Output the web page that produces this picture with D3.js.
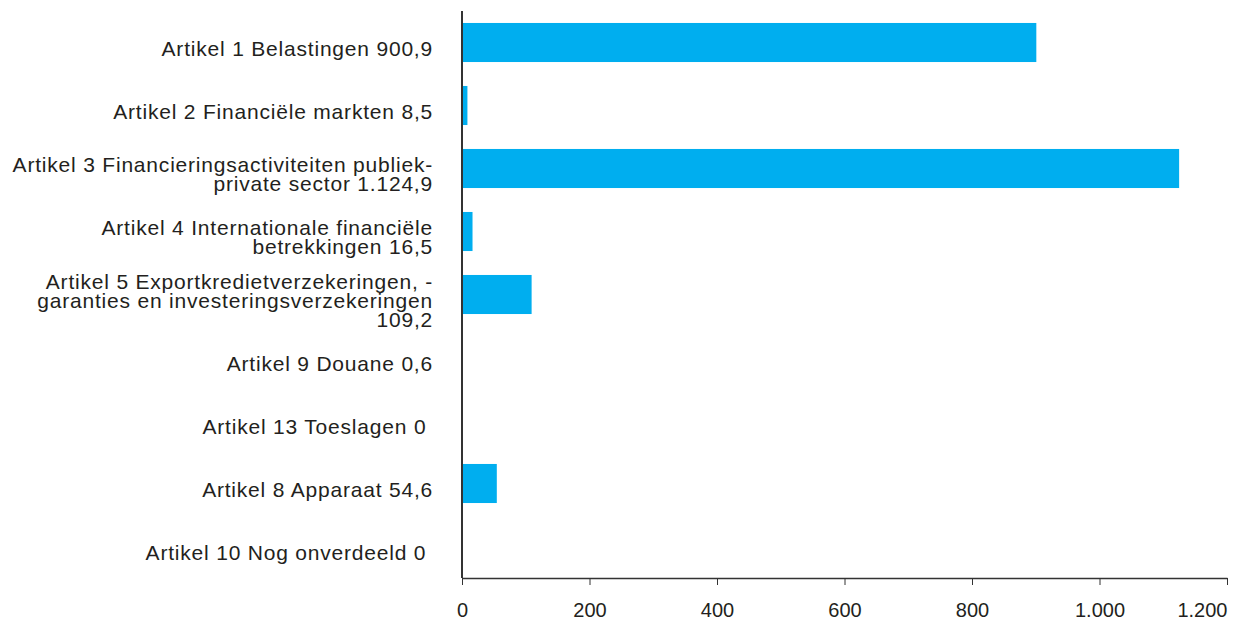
<!DOCTYPE html>
<html>
<head>
<meta charset="utf-8">
<script src="https://cdn.jsdelivr.net/npm/d3@7"></script>
<style>
  body { margin: 0; background: #fff; }
  svg text { font-family: "Liberation Sans", Arial, sans-serif; fill: #231f20; white-space: pre; }
</style>
</head>
<body>
<div class="vis-bars"></div>
<script>
// chart data
const labels = [
    ["Artikel 1 Belastingen 900,9"],
    ["Artikel 2 Financiële markten 8,5"],
    ["Artikel 3 Financieringsactiviteiten publiek-", "private sector 1.124,9"],
    ["Artikel 4 Internationale financiële", "betrekkingen 16,5"],
    ["Artikel 5 Exportkredietverzekeringen, -", "garanties en investeringsverzekeringen", "109,2"],
    ["Artikel 9 Douane 0,6"],
    ["Artikel 13 Toeslagen 0 "],
    ["Artikel 8 Apparaat 54,6"],
    ["Artikel 10 Nog onverdeeld 0 "]
]
const values = [900.9, 8.5, 1124.9, 16.5, 109.2, 0.6, 0, 54.6, 0]
const ticks = [0, 200, 400, 600, 800, 1000, 1200]
const tickLabels = ["0", "200", "400", "600", "800", "1.000", "1.200"]

const width = 1237
const height = 621

const svg = d3.select('.vis-bars')
    .append('svg')
    .attr('width', width)
    .attr('height', height)

const x = d3.scaleLinear()
    .domain([0, 1200])
    .range([462, 1227])

const y = d3.scaleBand()
    .domain(d3.range(values.length))
    .range([11, 578])
    .paddingInner(0.38)
    .paddingOuter(0.19)

// bars
svg.append("g")
    .selectAll("rect")
    .data(values)
    .join("rect")
    .attr("x", x(0))
    .attr("y", (d, i) => y(i))
    .attr("width", d => x(d) - x(0))
    .attr("height", y.bandwidth())
    .attr("fill", "#00aeef")

// x axis
const xAxis = d3.axisBottom(x)
    .tickValues(ticks)
    .tickFormat((d, i) => tickLabels[i])
    .tickSize(7)
    .tickSizeOuter(0)
    .tickPadding(18)

const gx = svg.append("g")
    .attr("transform", `translate(0,578)`)
    .call(xAxis)
gx.select(".domain").attr("stroke", "#333").attr("stroke-width", 1.5)
gx.selectAll(".tick line").attr("stroke", "#333").attr("stroke-width", 1)
gx.selectAll(".tick text")
    .attr("font-size", 20)
    .attr("font-family", "Liberation Sans, Arial, sans-serif")
    .attr("fill", "#231f20")
// last label is pulled inside the chart, as in the original
gx.selectAll(".tick text")
    .filter(d => d === 1200)
    .attr("text-anchor", "end")

// vertical axis line
svg.append("line")
    .attr("x1", x(0)).attr("x2", x(0))
    .attr("y1", 11).attr("y2", 578)
    .attr("stroke", "#333")
    .attr("stroke-width", 2)

// category labels (tight line spacing like the original)
const lineH = 19
const label = svg.append("g")
    .attr("text-anchor", "end")
    .attr("font-size", 21)
    .attr("letter-spacing", 0.8)
    .selectAll("text")
    .data(labels)
    .join("text")
    .attr("x", 433)
    .attr("y", (d, i) => y(i) + y.bandwidth() / 2 + 13 - (d.length - 1) * 9.5)

label.selectAll("tspan")
    .data(d => d)
    .join("tspan")
    .attr("x", 433)
    .attr("dy", (d, i) => i === 0 ? 0 : lineH)
    .text(d => d)
</script>
</body>
</html>
